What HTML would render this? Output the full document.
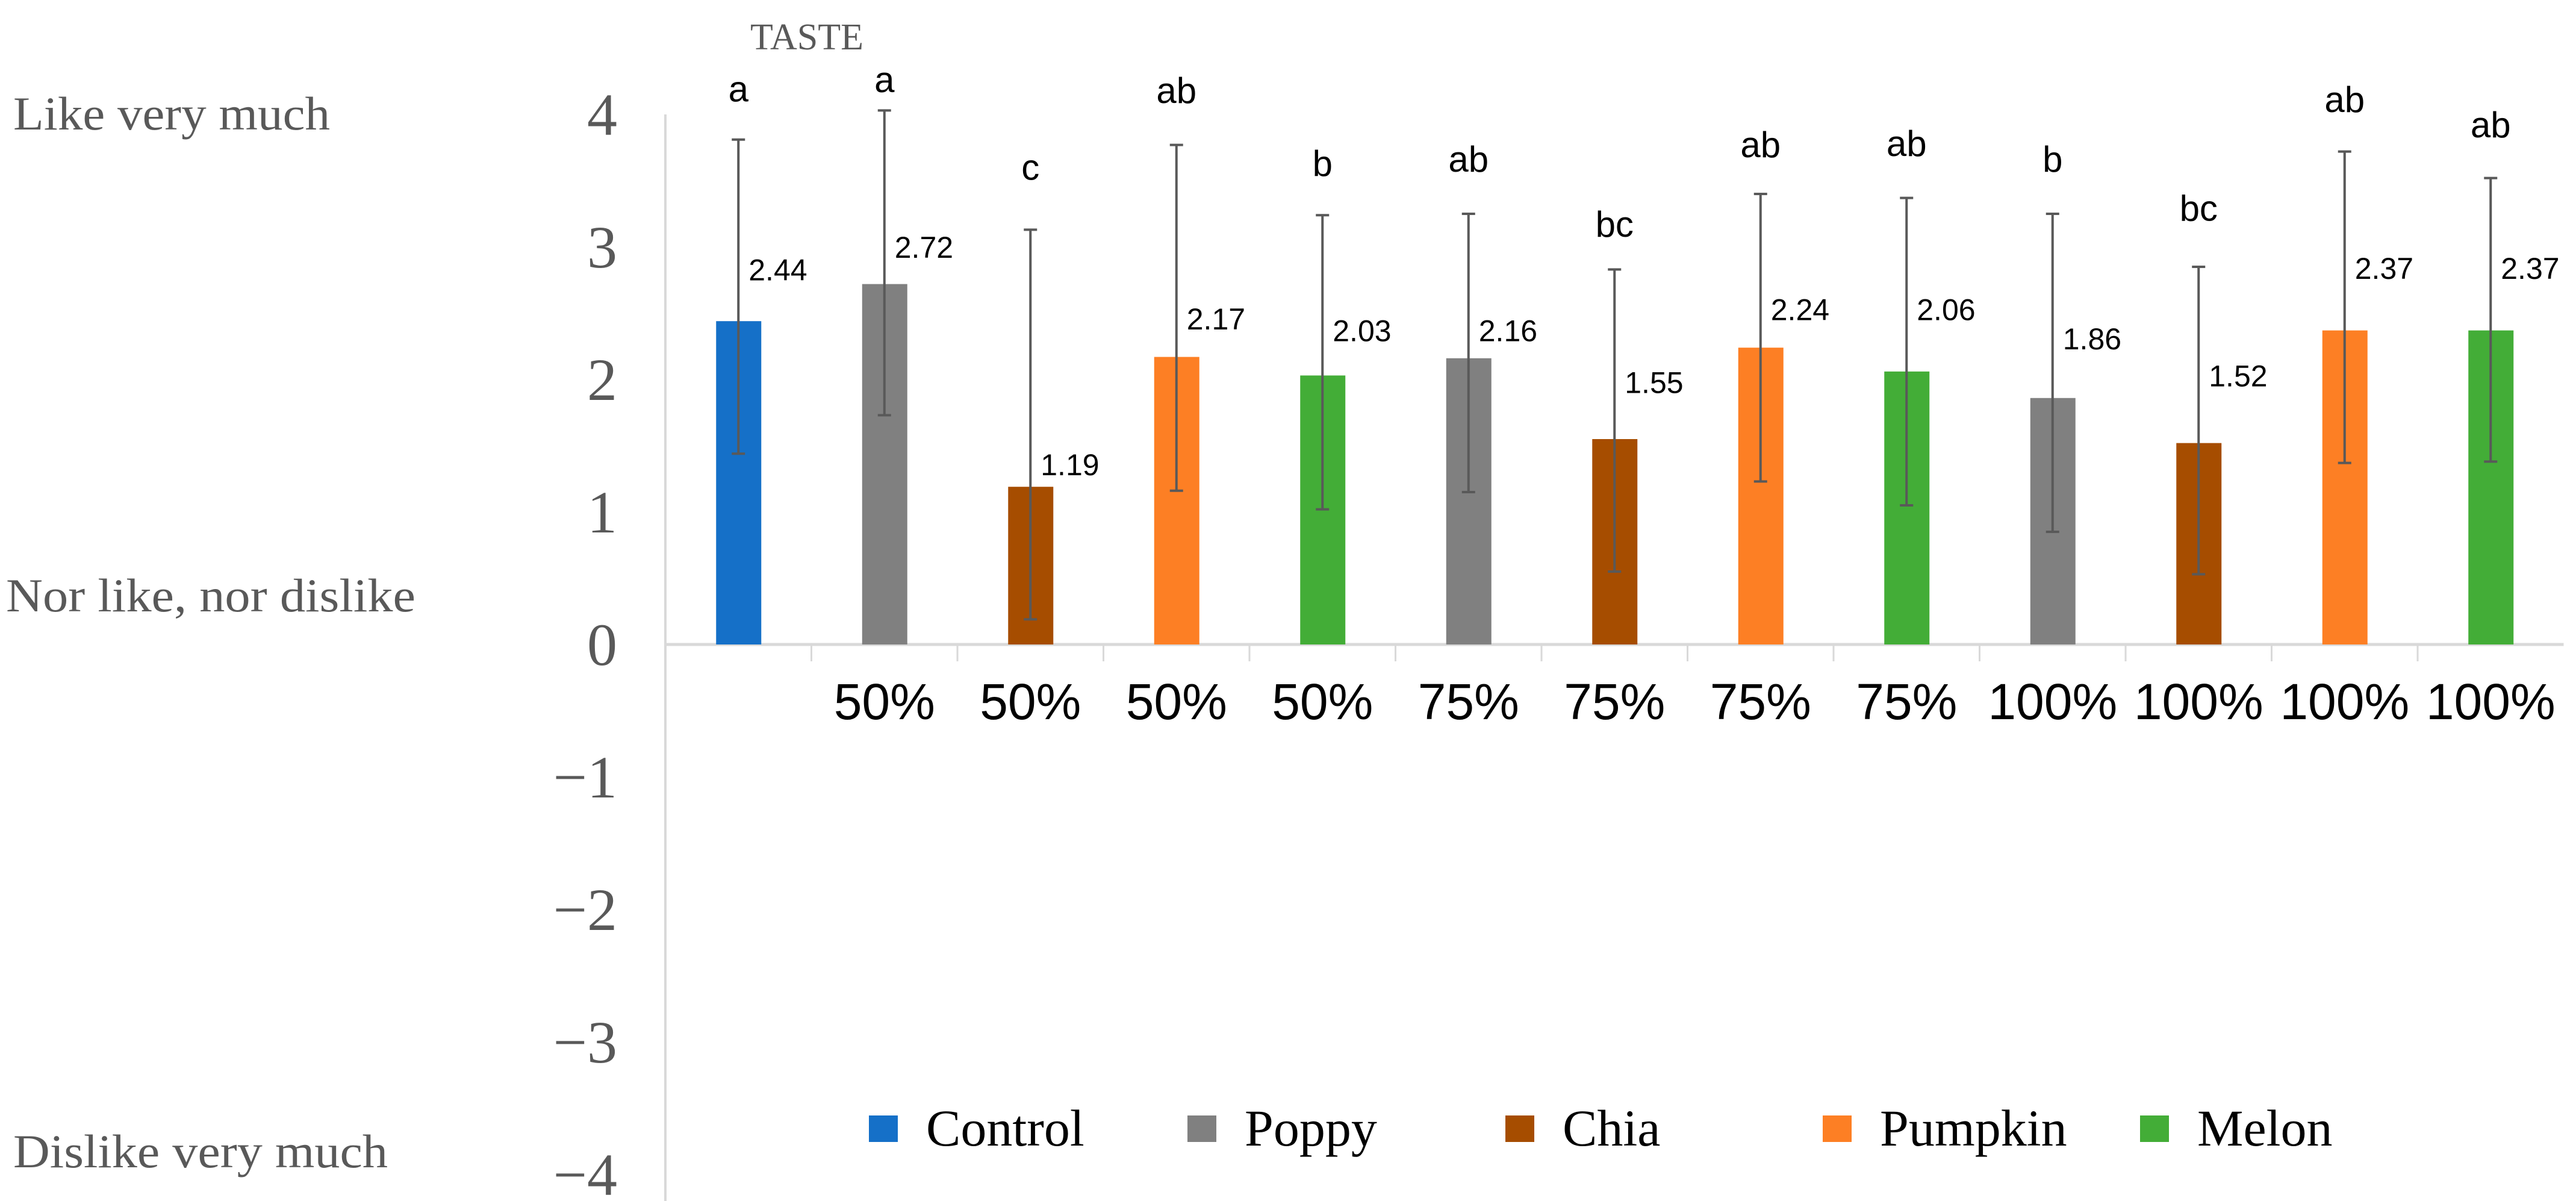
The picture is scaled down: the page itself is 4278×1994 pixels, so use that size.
<!DOCTYPE html>
<html><head><meta charset="utf-8"><style>
html,body{margin:0;padding:0;background:#fff;}
svg{display:block;}
</style></head><body>
<svg id="chart" width="4278" height="1994" viewBox="0 0 4278 1994" xmlns="http://www.w3.org/2000/svg">
<text x="1340" y="82" font-family="Liberation Serif, serif" font-size="62" fill="#595959" text-anchor="middle">TASTE</text>
<text x="22" y="215" font-family="Liberation Serif, serif" font-size="78" fill="#595959" textLength="526" lengthAdjust="spacingAndGlyphs">Like very much</text>
<text x="10" y="1015" font-family="Liberation Serif, serif" font-size="78" fill="#595959" textLength="680" lengthAdjust="spacingAndGlyphs">Nor like, nor dislike</text>
<text x="22" y="1938" font-family="Liberation Serif, serif" font-size="78" fill="#595959" textLength="622" lengthAdjust="spacingAndGlyphs">Dislike very much</text>
<g id="axes"></g><g id="bars"></g><g id="legend"></g>
</svg>
<script>
const categories = ["", "50%", "50%", "50%", "50%", "75%", "75%", "75%", "75%", "100%", "100%", "100%", "100%"];
const seriesOf = ["Control", "Poppy", "Chia", "Pumpkin", "Melon", "Poppy", "Chia", "Pumpkin", "Melon", "Poppy", "Chia", "Pumpkin", "Melon"];
const values = [2.44, 2.72, 1.19, 2.17, 2.03, 2.16, 1.55, 2.24, 2.06, 1.86, 1.52, 2.37, 2.37];
const valueText = ["2.44", "2.72", "1.19", "2.17", "2.03", "2.16", "1.55", "2.24", "2.06", "1.86", "1.52", "2.37", "2.37"];
const errHigh = [3.81, 4.03, 3.13, 3.77, 3.24, 3.25, 2.83, 3.40, 3.37, 3.25, 2.85, 3.72, 3.52];
const errLow = [1.44, 1.73, 0.19, 1.16, 1.02, 1.15, 0.55, 1.23, 1.05, 0.85, 0.53, 1.37, 1.38];
const letters = ["a", "a", "c", "ab", "b", "ab", "bc", "ab", "ab", "b", "bc", "ab", "ab"];
const letterLevel = [4.17, 4.24, 3.58, 4.16, 3.61, 3.64, 3.15, 3.75, 3.76, 3.64, 3.27, 4.09, 3.90];
const valueLabelLevel = [2.83, 3.00, 1.36, 2.46, 2.37, 2.37, 1.98, 2.53, 2.53, 2.31, 2.03, 2.84, 2.84];
const yTicks = [4, 3, 2, 1, 0, -1, -2, -3, -4];
const yTickText = ["4", "3", "2", "1", "0", "\u22121", "\u22122", "\u22123", "\u22124"];
const legendNames = ["Control", "Poppy", "Chia", "Pumpkin", "Melon"];
const colors = {Control:"#1570c8", Poppy:"#808080", Chia:"#a64d00", Pumpkin:"#fd7f24", Melon:"#43ad37"};

const NS = "http://www.w3.org/2000/svg";
const X0 = 1105, STEP = 242.5, Y0 = 1070, UNIT = 220;
const y = v => Y0 - v * UNIT;
const xc = i => X0 + STEP * (i + 0.5);
function mk(tag, attrs, parent, text) {
  const e = document.createElementNS(NS, tag);
  for (const k in attrs) e.setAttribute(k, attrs[k]);
  if (text !== undefined) e.textContent = text;
  parent.appendChild(e);
  return e;
}
const axes = document.getElementById("axes");
let e = mk("line", {x1: X0, x2: X0, y1: y(4), y2: y(-4.2), stroke: "#d9d9d9", "stroke-width": 4}, axes);


e = mk("line", {x1: X0, x2: X0 + STEP * categories.length, y1: Y0, y2: Y0, stroke: "#d9d9d9", "stroke-width": 5}, axes);


yTicks.forEach((t, i) => {
  const el = mk("text", {x: 1025, y: y(t) + 34, "font-family": "Liberation Serif, serif", "font-size": 100, fill: "#595959", "text-anchor": "end"}, axes, yTickText[i]);
  
  
});
categories.forEach((c, i) => {
  if (i > 0) {
    const tk = mk("line", {x1: X0 + STEP * i, x2: X0 + STEP * i, y1: Y0, y2: Y0 + 28, stroke: "#d9d9d9", "stroke-width": 3}, axes);
    
    
  }
  const lb = mk("text", {x: xc(i), y: Y0 + 124, "font-family": "Liberation Sans, sans-serif", "font-size": 84, fill: "#000", "text-anchor": "middle"}, axes, c);
  
  
});
const bars = document.getElementById("bars");
values.forEach((v, i) => {
  const cx = xc(i);
  const r = mk("rect", {x: cx - 37, y: y(v), width: 75, height: v * UNIT, fill: colors[seriesOf[i]]}, bars);
  
  
  const eb = mk("path", {d: `M${cx},${y(errHigh[i])}V${y(errLow[i])}M${cx-11},${y(errHigh[i])}h22M${cx-11},${y(errLow[i])}h22`, stroke: "#595959", "stroke-width": 4, fill: "none"}, bars);
  
  
  const vl = mk("text", {x: cx + 17, y: y(valueLabelLevel[i]) + 18, "font-family": "Liberation Sans, sans-serif", "font-size": 50, fill: "#000"}, bars, valueText[i]);
  
  
  const sl = mk("text", {x: cx, y: y(letterLevel[i]) + 16, "font-family": "Liberation Sans, sans-serif", "font-size": 60, fill: "#000", "text-anchor": "middle"}, bars, letters[i]);
  
  
});
const legend = document.getElementById("legend");
const legX = [1443, 1972, 2500, 3027, 3554];
legendNames.forEach((n, i) => {
  const g = mk("g", {}, legend);
  
  
  mk("rect", {x: legX[i], y: 1852, width: 48, height: 44, fill: colors[n]}, g);
  mk("text", {x: legX[i] + 95, y: 1902, "font-family": "Liberation Serif, serif", "font-size": 86, fill: "#000"}, g, n);
});
</script>
</body></html>
